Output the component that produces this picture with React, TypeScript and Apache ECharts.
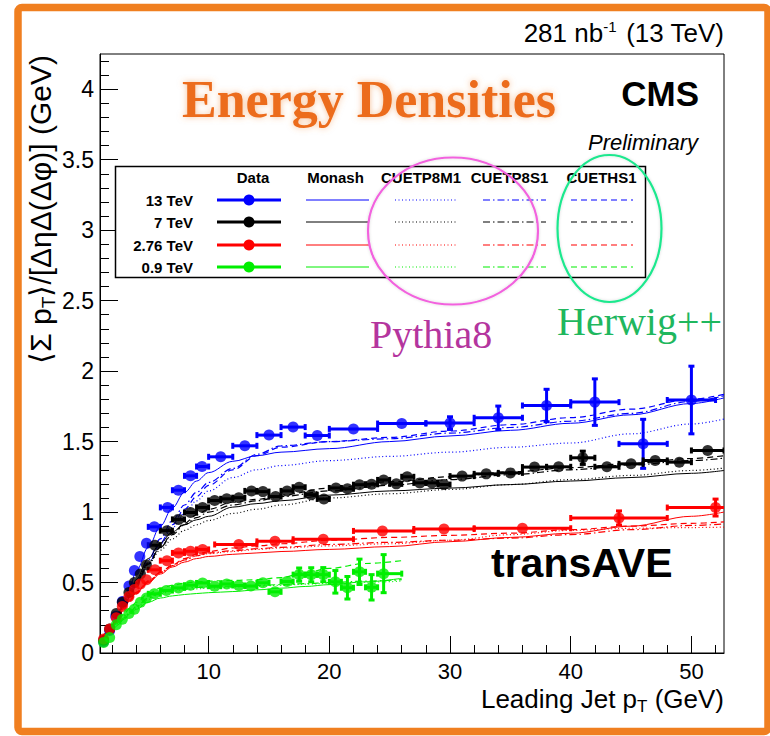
import React, { useEffect, useRef } from "react";
import * as echarts from "echarts";

const SANS = "'Liberation Sans', Arial, Helvetica, sans-serif";
const SERIF = "'Liberation Serif', 'Times New Roman', serif";

// ---------- axes ----------
const X_MIN = 1;
const X_MAX = 52.7;
const Y_MIN = 0;
const Y_MAX = 4.25;
const xMajorTicks = [10, 20, 30, 40, 50];
const xMinorTicks = [2, 4, 6, 8, 12, 14, 16, 18, 22, 24, 26, 28, 32, 34, 36, 38, 42, 44, 46, 48, 52];
const yMajorTicks = [0, 0.5, 1, 1.5, 2, 2.5, 3, 3.5, 4];
const yMinorTicks = [0.1, 0.2, 0.3, 0.4, 0.6, 0.7, 0.8, 0.9, 1.1, 1.2, 1.3, 1.4, 1.6, 1.7, 1.8, 1.9, 2.1, 2.2, 2.3, 2.4, 2.6, 2.7, 2.8, 2.9, 3.1, 3.2, 3.3, 3.4, 3.6, 3.7, 3.8, 3.9, 4.1, 4.2];

const energies = ["13 TeV", "7 TeV", "2.76 TeV", "0.9 TeV"];
const energyColors = ["#0000ff", "#000000", "#ff0000", "#00ee00"];
const tunes = ["Monash", "CUETP8M1", "CUETP8S1", "CUETHS1"];

// ---------- data: 13 TeV ----------
const d13X = [1.3, 1.8, 2.3, 2.85, 3.4, 3.85, 4.3, 4.85, 5.5, 6.6, 7.5, 8.5, 9.45, 11, 13, 15, 17, 19, 22, 26, 30, 34, 38, 42, 46, 50];
const d13Y = [0.08, 0.16, 0.26, 0.365, 0.475, 0.585, 0.684, 0.779, 0.895, 1.033, 1.155, 1.257, 1.323, 1.392, 1.47, 1.546, 1.603, 1.543, 1.59, 1.628, 1.631, 1.669, 1.756, 1.78, 1.484, 1.795];
const d13Lo = [1, 1.5, 2, 2.5, 3, 3.5, 4, 4.5, 5, 6, 7, 8, 9, 10, 12, 14, 16, 18, 20, 24, 28, 32, 36, 40, 44, 48];
const d13Hi = [1.5, 2, 2.5, 3, 3.5, 4, 4.5, 5, 6, 7, 8, 9, 10, 12, 14, 16, 18, 20, 24, 28, 32, 36, 40, 44, 48, 52];
const d13Err = [0.01, 0.01, 0.01, 0.01, 0.01, 0.01, 0.01, 0.01, 0.01, 0.01, 0.012, 0.012, 0.015, 0.015, 0.015, 0.018, 0.02, 0.02, 0.02, 0.025, 0.045, 0.083, 0.115, 0.165, 0.174, 0.24];

// ---------- data: 7 TeV ----------
const d7X = [1.3, 1.8, 2.35, 2.85, 3.4, 3.85, 4.35, 4.85, 5.55, 6.55, 7.5, 8.5, 9.5, 10.5, 11.5, 12.5, 13.55, 14.5, 15.55, 16.5, 17.5, 18.5, 19.55, 20.55, 21.5, 22.5, 23.5, 24.5, 25.55, 26.45, 27.5, 28.5, 29.5, 31, 33, 35, 37, 39, 41, 43, 45, 47, 49, 51.35];
const d7Y = [0.09, 0.17, 0.28, 0.36, 0.43, 0.5, 0.56, 0.625, 0.765, 0.868, 0.948, 0.997, 1.033, 1.082, 1.094, 1.102, 1.15, 1.145, 1.11, 1.15, 1.176, 1.123, 1.093, 1.171, 1.165, 1.194, 1.197, 1.228, 1.2, 1.25, 1.207, 1.207, 1.195, 1.255, 1.271, 1.278, 1.319, 1.321, 1.385, 1.321, 1.342, 1.366, 1.354, 1.437];
const d7Lo = [1, 1.5, 2, 2.5, 3, 3.5, 4, 4.5, 5, 6, 7, 8, 9, 10, 11, 12, 13, 14, 15, 16, 17, 18, 19, 20, 21, 22, 23, 24, 25, 26, 27, 28, 29, 30, 32, 34, 36, 38, 40, 42, 44, 46, 48, 50];
const d7Hi = [1.5, 2, 2.5, 3, 3.5, 4, 4.5, 5, 6, 7, 8, 9, 10, 11, 12, 13, 14, 15, 16, 17, 18, 19, 20, 21, 22, 23, 24, 25, 26, 27, 28, 29, 30, 32, 34, 36, 38, 40, 42, 44, 46, 48, 50, 52.7];
const d7Err = [0.01, 0.01, 0.01, 0.01, 0.01, 0.01, 0.01, 0.01, 0.01, 0.01, 0.01, 0.01, 0.012, 0.012, 0.012, 0.015, 0.015, 0.015, 0.015, 0.015, 0.018, 0.018, 0.018, 0.02, 0.02, 0.02, 0.02, 0.02, 0.02, 0.022, 0.022, 0.025, 0.025, 0.02, 0.02, 0.02, 0.025, 0.025, 0.047, 0.04, 0.04, 0.04, 0.04, 0.02];

// ---------- data: 2.76 TeV ----------
const d276X = [1.3, 1.8, 2.35, 2.85, 3.4, 3.85, 4.35, 4.85, 5.55, 6.55, 7.5, 8.5, 9.5, 12.5, 15.5, 19.5, 24.4, 29.5, 36, 44, 52];
const d276Y = [0.1, 0.17, 0.25, 0.33, 0.4, 0.45, 0.49, 0.52, 0.59, 0.655, 0.71, 0.722, 0.735, 0.77, 0.792, 0.807, 0.866, 0.88, 0.885, 0.958, 1.032];
const d276Lo = [1, 1.5, 2, 2.5, 3, 3.5, 4, 4.5, 5, 6, 7, 8, 9, 10.5, 14, 17, 22, 27, 32, 40, 48];
const d276Hi = [1.5, 2, 2.5, 3, 3.5, 4, 4.5, 5, 6, 7, 8, 9, 10, 14, 17, 22, 27, 32, 40, 48, 56];
const d276Err = [0.01, 0.01, 0.01, 0.01, 0.01, 0.01, 0.01, 0.01, 0.01, 0.01, 0.012, 0.012, 0.012, 0.015, 0.015, 0.015, 0.02, 0.02, 0.022, 0.05, 0.06];

// ---------- data: 0.9 TeV ----------
const d09X = [1.3, 1.8, 2.35, 2.85, 3.4, 3.85, 4.35, 4.85, 5.5, 6.5, 7.5, 8.5, 9.5, 10.5, 11.5, 12.5, 13.5, 14.5, 15.5, 16.5, 17.5, 18.5, 19.5, 20.5, 21.5, 22.5, 23.5, 24.5];
const d09Y = [0.075, 0.11, 0.2, 0.24, 0.28, 0.31, 0.36, 0.39, 0.42, 0.443, 0.462, 0.481, 0.497, 0.474, 0.49, 0.479, 0.475, 0.498, 0.434, 0.507, 0.556, 0.555, 0.556, 0.505, 0.463, 0.576, 0.466, 0.563];
const d09Lo = [1, 1.5, 2, 2.5, 3, 3.5, 4, 4.5, 5, 6, 7, 8, 9, 10, 11, 12, 13, 14, 15, 16, 17, 18, 19, 20, 21, 22, 23, 24];
const d09Hi = [1.5, 2, 2.5, 3, 3.5, 4, 4.5, 5, 6, 7, 8, 9, 10, 11, 12, 13, 14, 15, 16, 17, 18, 19, 20, 21, 22, 23, 24, 26];
const d09Err = [0.01, 0.01, 0.01, 0.01, 0.01, 0.01, 0.01, 0.01, 0.012, 0.012, 0.012, 0.012, 0.015, 0.015, 0.015, 0.015, 0.02, 0.02, 0.025, 0.03, 0.047, 0.05, 0.05, 0.08, 0.08, 0.09, 0.09, 0.135];

// ---------- model curves ----------
const modelX = [1, 1.5, 2, 2.5, 3, 3.5, 4, 5, 6, 7, 8, 9, 10, 12, 14, 16, 20, 25, 30, 35, 40, 45, 50, 52.7];
const m13Monash = [0.09, 0.14, 0.2, 0.29, 0.38, 0.48, 0.58, 0.75, 0.9, 1.03, 1.14, 1.22, 1.28, 1.36, 1.4, 1.425, 1.45, 1.5, 1.54, 1.58, 1.63, 1.69, 1.77, 1.81];
const m13P8M1 = [0.09, 0.13, 0.18, 0.26, 0.34, 0.42, 0.5, 0.64, 0.77, 0.89, 0.99, 1.08, 1.15, 1.245, 1.3, 1.33, 1.365, 1.395, 1.425, 1.46, 1.49, 1.555, 1.625, 1.66];
const m13P8S1 = [0.09, 0.13, 0.18, 0.26, 0.34, 0.42, 0.5, 0.66, 0.81, 0.94, 1.05, 1.14, 1.21, 1.31, 1.41, 1.47, 1.5, 1.52, 1.56, 1.6, 1.645, 1.7, 1.785, 1.825];
const m13HS1 = [0.09, 0.13, 0.17, 0.24, 0.32, 0.4, 0.48, 0.63, 0.78, 0.91, 1.02, 1.11, 1.19, 1.3, 1.4, 1.46, 1.5, 1.53, 1.575, 1.62, 1.67, 1.73, 1.8, 1.835];

const m7Monash = [0.09, 0.14, 0.2, 0.28, 0.36, 0.44, 0.52, 0.67, 0.78, 0.86, 0.91, 0.945, 0.97, 1.035, 1.06, 1.08, 1.12, 1.15, 1.17, 1.195, 1.22, 1.245, 1.275, 1.295];
const m7P8M1 = [0.09, 0.13, 0.19, 0.26, 0.34, 0.42, 0.5, 0.63, 0.73, 0.81, 0.87, 0.91, 0.94, 0.99, 1.02, 1.05, 1.1, 1.13, 1.16, 1.195, 1.23, 1.26, 1.295, 1.312];
const m7P8S1 = [0.09, 0.13, 0.19, 0.26, 0.34, 0.42, 0.5, 0.64, 0.75, 0.84, 0.91, 0.96, 1.0, 1.05, 1.08, 1.11, 1.15, 1.19, 1.23, 1.265, 1.3, 1.335, 1.365, 1.383];
const m7HS1 = [0.09, 0.13, 0.18, 0.25, 0.33, 0.41, 0.49, 0.63, 0.75, 0.85, 0.92, 0.98, 1.02, 1.07, 1.09, 1.12, 1.17, 1.215, 1.25, 1.285, 1.315, 1.345, 1.38, 1.4];

const m276Monash = [0.09, 0.14, 0.2, 0.26, 0.32, 0.38, 0.43, 0.5, 0.56, 0.61, 0.645, 0.67, 0.685, 0.7, 0.71, 0.72, 0.735, 0.755, 0.79, 0.82, 0.85, 0.9, 0.97, 1.0];
const m276P8M1 = [0.09, 0.14, 0.2, 0.26, 0.32, 0.38, 0.43, 0.51, 0.57, 0.62, 0.66, 0.69, 0.705, 0.72, 0.735, 0.745, 0.76, 0.775, 0.8, 0.84, 0.87, 0.885, 0.89, 0.893];
const m276P8S1 = [0.09, 0.14, 0.2, 0.26, 0.32, 0.38, 0.43, 0.51, 0.57, 0.62, 0.66, 0.69, 0.71, 0.725, 0.74, 0.75, 0.77, 0.785, 0.8, 0.815, 0.84, 0.875, 0.905, 0.916];
const m276HS1 = [0.09, 0.13, 0.19, 0.25, 0.31, 0.37, 0.42, 0.5, 0.57, 0.625, 0.67, 0.7, 0.72, 0.745, 0.76, 0.775, 0.8, 0.82, 0.835, 0.85, 0.875, 0.9, 0.92, 0.93];

const modelX09 = [1, 1.5, 2, 2.5, 3, 3.5, 4, 5, 6, 7, 8, 9, 10, 12, 14, 16, 18, 20, 23, 26];
const m09Monash = [0.08, 0.12, 0.16, 0.2, 0.24, 0.28, 0.31, 0.36, 0.39, 0.405, 0.415, 0.422, 0.428, 0.436, 0.448, 0.46, 0.472, 0.485, 0.505, 0.53];
const m09P8M1 = [0.08, 0.12, 0.17, 0.21, 0.25, 0.29, 0.32, 0.38, 0.42, 0.44, 0.45, 0.455, 0.46, 0.468, 0.475, 0.48, 0.488, 0.495, 0.502, 0.51];
const m09P8S1 = [0.08, 0.12, 0.17, 0.21, 0.25, 0.29, 0.33, 0.39, 0.43, 0.45, 0.46, 0.465, 0.47, 0.475, 0.48, 0.485, 0.492, 0.5, 0.51, 0.52];
const m09HS1 = [0.08, 0.12, 0.18, 0.23, 0.28, 0.32, 0.36, 0.42, 0.46, 0.48, 0.495, 0.505, 0.51, 0.515, 0.52, 0.535, 0.57, 0.6, 0.635, 0.655];

const tuneDash: any[] = ["solid", [1, 2.5], [7, 3, 1.5, 3], [6, 4]];

function buildOption() {
  const dataSets = [
    { x: d13X, y: d13Y, lo: d13Lo, hi: d13Hi, e: d13Err, mx: modelX, m: [m13Monash, m13P8M1, m13P8S1, m13HS1] },
    { x: d7X, y: d7Y, lo: d7Lo, hi: d7Hi, e: d7Err, mx: modelX, m: [m7Monash, m7P8M1, m7P8S1, m7HS1] },
    { x: d276X, y: d276Y, lo: d276Lo, hi: d276Hi, e: d276Err, mx: modelX, m: [m276Monash, m276P8M1, m276P8S1, m276HS1] },
    { x: d09X, y: d09Y, lo: d09Lo, hi: d09Hi, e: d09Err, mx: modelX09, m: [m09Monash, m09P8M1, m09P8S1, m09HS1] },
  ];

  const series: any[] = [];
  dataSets.forEach((ds, k) => {
    const color = energyColors[k];
    ds.m.forEach((vals, t) => {
      series.push({
        type: "line",
        name: energies[k] + " " + tunes[t],
        data: ds.mx.map((xv, i) => [xv, vals[i]]),
        showSymbol: false,
        symbol: "none",
        smooth: 0.35,
        smoothMonotone: "x",
        lineStyle: { color, width: t === 0 ? 1 : 1.2, type: tuneDash[t] },
        z: 2,
        silent: true,
      });
    });
  });
  dataSets.forEach((ds, k) => {
    const color = energyColors[k];
    series.push({
      type: "custom",
      name: energies[k] + " err",
      clip: true,
      z: 3,
      silent: true,
      encode: { x: 0, y: 1 },
      data: ds.x.map((xv, i) => [xv, ds.y[i], ds.lo[i], ds.hi[i], ds.e[i]]),
      renderItem: (params: any, api: any) => {
        const xv = api.value(0);
        const yv = api.value(1);
        const lo = api.value(2);
        const hi = api.value(3);
        const er = api.value(4);
        const c = api.coord([xv, yv]);
        const l = api.coord([lo, yv]);
        const h = api.coord([hi, yv]);
        const t = api.coord([xv, yv + er]);
        const b = api.coord([xv, yv - er]);
        const st = { stroke: color, lineWidth: 3, fill: null };
        const cap = 3;
        const children: any[] = [];
        if (h[0] - l[0] > 12) {
          children.push({ type: "line", shape: { x1: l[0], y1: c[1], x2: h[0], y2: c[1] }, style: st });
          children.push({ type: "line", shape: { x1: l[0], y1: c[1] - cap, x2: l[0], y2: c[1] + cap }, style: st });
          children.push({ type: "line", shape: { x1: h[0], y1: c[1] - cap, x2: h[0], y2: c[1] + cap }, style: st });
        }
        if (b[1] - t[1] > 12) {
          children.push({ type: "line", shape: { x1: c[0], y1: t[1], x2: c[0], y2: b[1] }, style: st });
          children.push({ type: "line", shape: { x1: c[0] - cap, y1: t[1], x2: c[0] + cap, y2: t[1] }, style: st });
          children.push({ type: "line", shape: { x1: c[0] - cap, y1: b[1], x2: c[0] + cap, y2: b[1] }, style: st });
        }
        return { type: "group", children };
      },
    });
    series.push({
      type: "scatter",
      name: energies[k],
      data: ds.x.map((xv, i) => [xv, ds.y[i]]),
      symbol: "circle",
      symbolSize: 11,
      itemStyle: { color },
      z: 4,
      silent: true,
    });
  });

  // legend graphics
  const rowY = [200, 222, 245, 267];
  const headerX = [253, 335.5, 421, 509.5, 601.5];
  const headers = ["Data", ...tunes];
  const legendSeg = [
    [306, 369],
    [395, 458],
    [483, 546],
    [571, 633],
  ];
  const graphic: any[] = [];
  graphic.push({
    type: "rect",
    shape: { x: 115.5, y: 166.5, width: 530, height: 111 },
    style: { fill: "#fff", stroke: "#000", lineWidth: 1.5 },
    z: 10,
  });
  headers.forEach((h, i) => {
    graphic.push({
      type: "text",
      x: headerX[i],
      y: 177,
      style: { text: h, fill: "#000", font: `bold 15px ${SANS}`, textAlign: "center", textVerticalAlign: "middle", align: "center", verticalAlign: "middle" },
      z: 11,
    });
  });
  energies.forEach((e, k) => {
    const y = rowY[k];
    const color = energyColors[k];
    graphic.push({
      type: "text",
      x: 193,
      y,
      style: { text: e, fill: "#000", font: `bold 15px ${SANS}`, textAlign: "right", textVerticalAlign: "middle", align: "right", verticalAlign: "middle" },
      z: 11,
    });
    graphic.push({ type: "line", shape: { x1: 217, y1: y, x2: 281, y2: y }, style: { stroke: color, lineWidth: 3 }, z: 11 });
    graphic.push({ type: "circle", shape: { cx: 249, cy: y, r: 5.5 }, style: { fill: color }, z: 12 });
    legendSeg.forEach((sg, t) => {
      const dash = tuneDash[t];
      graphic.push({
        type: "line",
        shape: { x1: sg[0], y1: y, x2: sg[1], y2: y },
        style: { stroke: color, lineWidth: t === 0 ? 1 : 1.2, lineDash: Array.isArray(dash) ? dash : null },
        z: 11,
      });
    });
  });
  // ellipses
  graphic.push({
    type: "ellipse",
    shape: { cx: 453, cy: 231, rx: 85, ry: 73.5 },
    style: { fill: null, stroke: "#f262de", lineWidth: 2.2, shadowColor: "rgba(0,0,0,0.15)", shadowBlur: 3 },
    z: 13,
  });
  graphic.push({
    type: "ellipse",
    shape: { cx: 609.5, cy: 228.5, rx: 52, ry: 73.5 },
    style: { fill: null, stroke: "#1ee88e", lineWidth: 2.2, shadowColor: "rgba(0,0,0,0.15)", shadowBlur: 3 },
    z: 13,
  });
  // annotations
  const txt = (text: string, x: number, y: number, font: string, fill: string, align: string, extra: any = {}) => ({
    type: "text",
    x,
    y,
    style: { text, fill, font, textAlign: align, align, textVerticalAlign: "middle", verticalAlign: "middle", ...extra },
    z: 14,
  });
  graphic.push(
    txt("Energy Densities", 369, 99, `bold 52px ${SERIF}`, "#ec6c1c", "center", {
      textShadowColor: "rgba(240,140,60,0.55)",
      textShadowBlur: 6,
    })
  );
  graphic.push(txt("CMS", 699, 93, `bold 35px ${SANS}`, "#000", "right"));
  graphic.push(txt("Preliminary", 698, 142, `italic 22px ${SANS}`, "#000", "right"));
  graphic.push(txt("Pythia8", 370, 334, `40px ${SERIF}`, "#b4359e", "left"));
  graphic.push(txt("Herwig++", 557, 321, `40px ${SERIF}`, "#1fb75e", "left"));
  graphic.push(txt("transAVE", 491, 563, `bold 41px ${SANS}`, "#000", "left"));
  graphic.push(
    txt("281 nb{sup|-1} (13 TeV)", 724, 33, `26px ${SANS}`, "#000", "right", {
      rich: { sup: { fontSize: 15, fontFamily: SANS, padding: [0, 2, 14, 0], fill: "#000", color: "#000" } },
    })
  );
  graphic.push(
    txt("Leading Jet p{sub|T} (GeV)", 724, 699, `26px ${SANS}`, "#000", "right", {
      rich: { sub: { fontSize: 17, fontFamily: SANS, padding: [14, 0, 0, 0], fill: "#000", color: "#000" } },
    })
  );
  graphic.push({
    type: "text",
    x: 40,
    y: 55,
    rotation: Math.PI / 2,
    style: {
      text: "⟨Σ p{sub|T}⟩/[ΔηΔ(Δφ)] (GeV)",
      fill: "#000",
      font: `30px ${SANS}`,
      textAlign: "right",
      align: "right",
      textVerticalAlign: "middle",
      verticalAlign: "middle",
      rich: { sub: { fontSize: 19, fontFamily: SANS, padding: [17, 0, 0, 0], fill: "#000", color: "#000" } },
    },
    z: 14,
  });
  // orange frame
  graphic.push({
    type: "rect",
    shape: { x: 18, y: 7.5, width: 750, height: 724, r: 4 },
    style: { fill: null, stroke: "#f07f20", lineWidth: 7.5 },
    z: 20,
  });

  const labelStyle = { color: "#000", fontSize: 22, fontFamily: SANS };
  return {
    animation: false,
    backgroundColor: "#fff",
    grid: { left: 100, right: 46, top: 54, bottom: 83, show: true, borderColor: "#000", borderWidth: 1, backgroundColor: "transparent", containLabel: false },
    xAxis: [
      {
        type: "value",
        min: X_MIN,
        max: X_MAX,
        position: "bottom",
        axisLine: { show: true, lineStyle: { color: "#000", width: 1 } },
        axisTick: { show: true, inside: true, length: 17, customValues: xMajorTicks, lineStyle: { color: "#000", width: 1 } },
        axisLabel: { show: true, customValues: xMajorTicks, margin: 7, ...labelStyle, formatter: (v: number) => String(v) },
        splitLine: { show: false },
      },
      {
        type: "value",
        min: X_MIN,
        max: X_MAX,
        position: "bottom",
        offset: 0,
        axisLine: { show: false },
        axisTick: { show: true, inside: true, length: 8, customValues: xMinorTicks, lineStyle: { color: "#000", width: 1 } },
        axisLabel: { show: false },
        splitLine: { show: false },
      },
    ],
    yAxis: [
      {
        type: "value",
        min: Y_MIN,
        max: Y_MAX,
        position: "left",
        axisLine: { show: true, lineStyle: { color: "#000", width: 1 } },
        axisTick: { show: true, inside: true, length: 18, customValues: yMajorTicks, lineStyle: { color: "#000", width: 1 } },
        axisLabel: { show: true, customValues: yMajorTicks, margin: 6, ...labelStyle, fontSize: 23, formatter: (v: number) => String(v) },
        splitLine: { show: false },
      },
      {
        type: "value",
        min: Y_MIN,
        max: Y_MAX,
        position: "left",
        offset: 0,
        axisLine: { show: false },
        axisTick: { show: true, inside: true, length: 9, customValues: yMinorTicks, lineStyle: { color: "#000", width: 1 } },
        axisLabel: { show: false },
        splitLine: { show: false },
      },
    ],
    series,
    graphic,
  };
}

export default function App() {
  const ref = useRef<HTMLDivElement>(null);
  useEffect(() => {
    if (!ref.current) return;
    const chart = echarts.init(ref.current, null, { renderer: "svg" });
    chart.setOption(buildOption() as any);
    return () => chart.dispose();
  }, []);
  return <div ref={ref} style={{ position: "absolute", left: 0, top: 0, width: 770, height: 736, background: "#fff" }} />;
}
